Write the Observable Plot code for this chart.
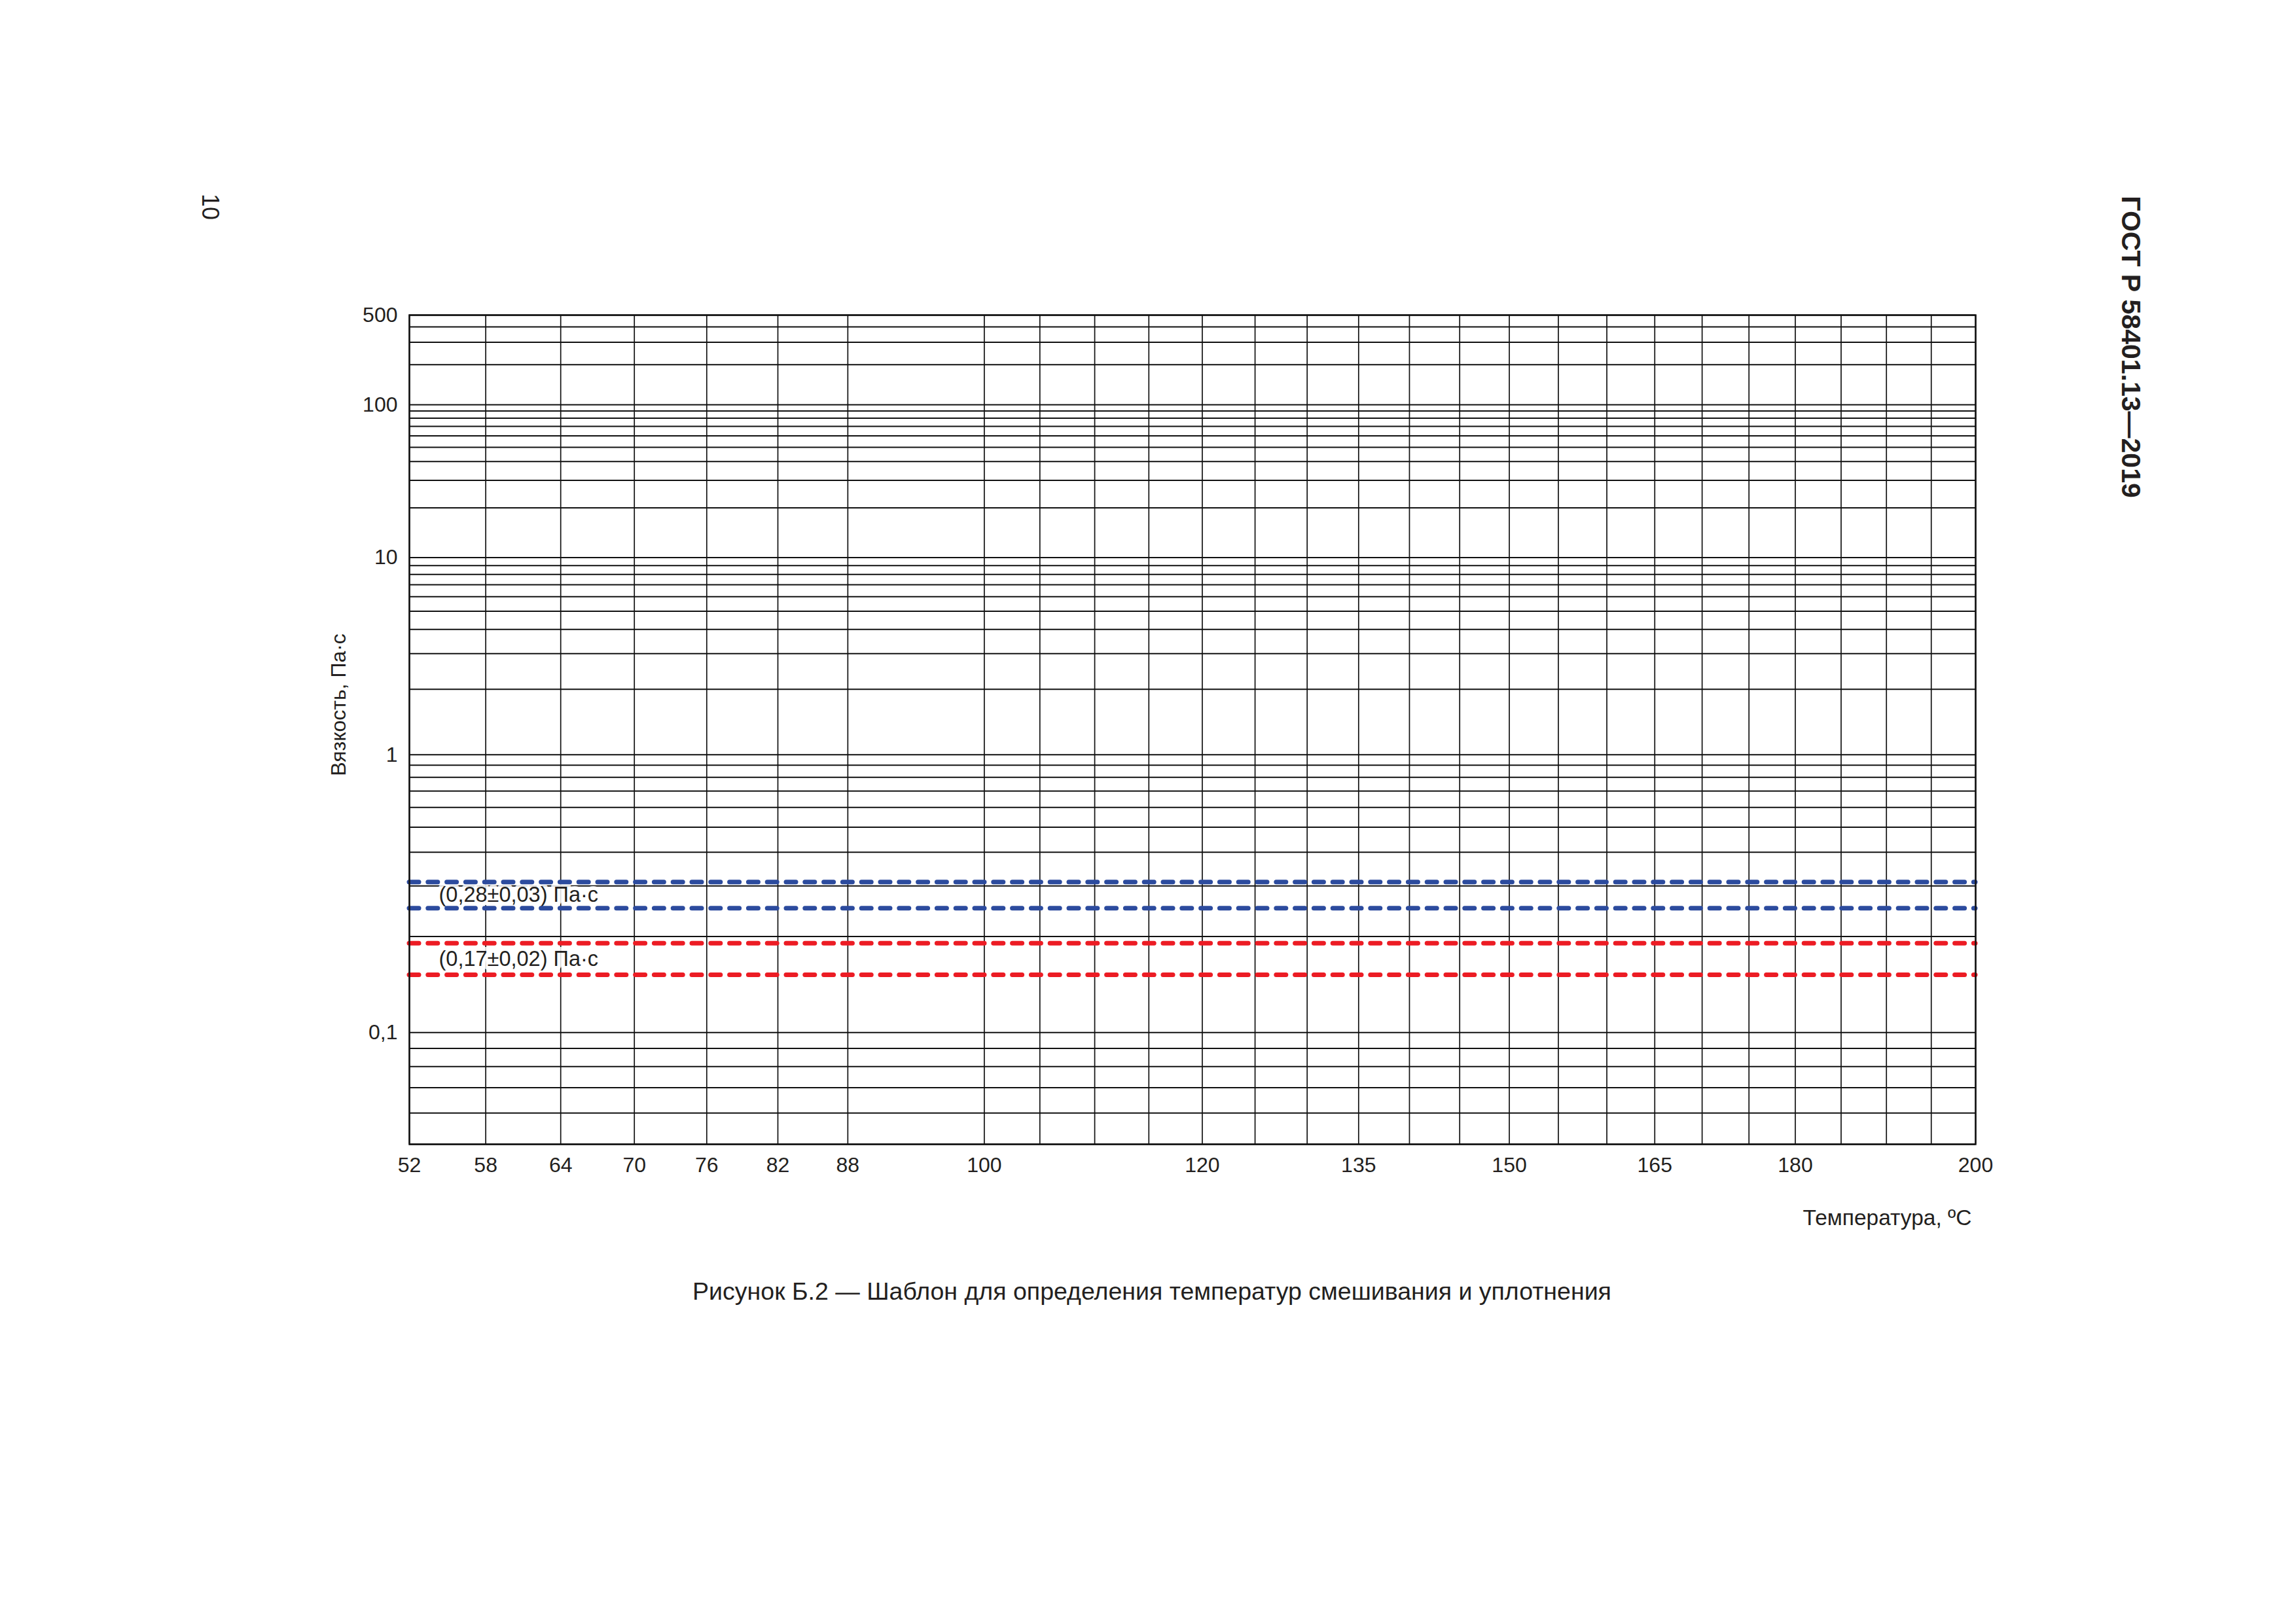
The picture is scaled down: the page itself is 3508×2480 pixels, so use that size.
<!DOCTYPE html>
<html>
<head>
<meta charset="utf-8">
<script src="https://cdn.jsdelivr.net/npm/d3@7"></script>
<script src="https://cdn.jsdelivr.net/npm/@observablehq/plot@0.6"></script>
<style>
  html, body { margin: 0; padding: 0; background: #fff; }
  #page { position: relative; width: 3508px; height: 2480px; background: #fff; overflow: hidden;
          font-family: "Liberation Sans", Arial, sans-serif; color: #231f20; }
  #chart { position: absolute; left: 0; top: 0; }
  .rot { position: absolute; white-space: nowrap; transform: translate(-50%, -50%) rotate(90deg); line-height: 1; }
  #pagenum { left: 321px; top: 316px; font-size: 36px; }
  #header { left: 3255px; top: 530px; font-size: 41px; font-weight: bold; }
  #caption { position: absolute; left: 1760px; top: 1955px; transform: translateX(-50%); white-space: nowrap;
             font-size: 37.5px; line-height: 37px; }
</style>
</head>
<body>
<div id="page">
  <div id="chart"></div>
  <div id="pagenum" class="rot">10</div>
  <div id="header" class="rot">ГОСТ Р 58401.13—2019</div>
  <div id="caption">Рисунок Б.2 — Шаблон для определения температур смешивания и уплотнения</div>
</div>
<script>
// Temperature, °C
const temperatureTicks = [52, 58, 64, 70, 76, 82, 88, 100, 120, 135, 150, 165, 180, 200];
const temperatureGrid = [52, 58, 64, 70, 76, 82, 88, 100, 105, 110, 115, 120, 125, 130, 135, 140, 145,
                         150, 155, 160, 165, 170, 175, 180, 185, 190, 195, 200];
// Viscosity, Pa·s
const viscosityGrid = [0.05, 0.06, 0.07, 0.08, 0.09, 0.1, 0.2, 0.3, 0.4, 0.5, 0.6, 0.7, 0.8, 0.9,
                       1, 2, 3, 4, 5, 6, 7, 8, 9, 10, 20, 30, 40, 50, 60, 70, 80, 90,
                       100, 200, 300, 400, 500];
const viscosityTicks = [500, 100, 10, 1, 0.1];
const viscosityTickLabels = ["500", "100", "10", "1", "0,1"];
// Target bands
const bandCenters = [0.28, 0.17];
const bandTolerances = [0.03, 0.02];
const bandLabels = ["(0,28±0,03) Па·с", "(0,17±0,02) Па·с"];

const xTitle = "Температура, ºС";
const yTitle = "Вязкость, Па·с";

const bandColors = ["#2c4b9e", "#ec1c24"];
const ink = "#231f20";

// ASTM-style axes: log of absolute temperature, log-log of viscosity in mPa·s
const toX = t => Math.log(t + 273.15);
const toY = v => Math.log10(Math.log10(v * 1000));

const bandMarks = bandCenters.flatMap((c, i) => [
  Plot.text([i], {
    y: j => (toY(bandCenters[j] + bandTolerances[j]) + toY(bandCenters[j] - bandTolerances[j])) / 2,
    text: j => bandLabels[j],
    frameAnchor: "left", textAnchor: "start", dx: 45,
    fontSize: 32.5, fill: ink, stroke: "white", strokeWidth: 12, strokeOpacity: 0.85,
    paintOrder: "stroke", strokeLinejoin: "round"
  }),
  Plot.ruleY([c + bandTolerances[i], c - bandTolerances[i]], {
    y: toY, stroke: bandColors[i], strokeWidth: 7,
    strokeDasharray: "15,13.8", strokeLinecap: "round"
  })
]);

const chart = Plot.plot({
  width: 3508,
  height: 1900,
  marginLeft: 625,
  marginRight: 490,
  marginTop: 481,
  marginBottom: 152,
  x: {domain: [toX(52), toX(200)], axis: null},
  y: {domain: [toY(0.05), toY(500)], axis: null},
  style: {fontFamily: "'Liberation Sans', Arial, sans-serif", background: "white", color: ink},
  marks: [
    Plot.ruleY(viscosityGrid, {y: toY, stroke: "#111", strokeWidth: 2}),
    Plot.ruleX(temperatureGrid, {x: toX, stroke: "#111", strokeWidth: 1.7}),
    ...bandMarks,
    Plot.frame({stroke: "#111", strokeWidth: 2.5}),
    Plot.text(temperatureTicks, {
      x: toX, text: d => String(d), frameAnchor: "bottom", lineAnchor: "top",
      dy: 20, fontSize: 32, fill: ink
    }),
    Plot.text(viscosityTicks, {
      y: toY, text: (d, i) => viscosityTickLabels[i], frameAnchor: "left",
      textAnchor: "end", dx: -18, fontSize: 32, fill: ink
    }),
    Plot.text([xTitle], {
      text: d => d, frameAnchor: "bottom-right", textAnchor: "end",
      dx: -6, dy: 123, fontSize: 33.5, fill: ink
    }),
    Plot.text([yTitle], {
      text: d => d, frameAnchor: "left", textAnchor: "middle", rotate: -90,
      dx: -108, dy: -38, fontSize: 32, fill: ink
    })
  ]
});
document.getElementById("chart").appendChild(chart);
</script>
</body>
</html>
